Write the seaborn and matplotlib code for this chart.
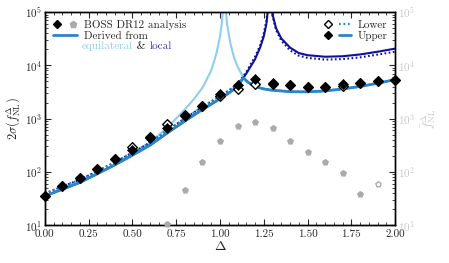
import numpy as np
import pandas as pd
import matplotlib
matplotlib.use("Agg")
import matplotlib.pyplot as plt
import seaborn as sns
from matplotlib.lines import Line2D
from matplotlib.legend_handler import HandlerTuple
from matplotlib.ticker import MultipleLocator, LogLocator, NullFormatter

# ---------------- data ----------------
delta_pts = [0.0, 0.1, 0.2, 0.3, 0.4, 0.5, 0.6, 0.7, 0.8, 0.9, 1.0,
             1.1, 1.2, 1.3, 1.4, 1.5, 1.6, 1.7, 1.8, 1.9, 2.0]
sigma_upper = [35, 53, 75, 115, 176, 257, 427, 660, 1100, 1700, 2900,
               4200, 5500, 4700, 4350, 3900, 4000, 4470, 4650, 5000, 5400]
sigma_lower = [35, 53, 75, 115, 176, 288, 450, 780, 1150, 1750, 2640,
               3550, 4500, 4500, 4300, 3900, 4000, 4150, 4650, 5000, 5400]

fbar_delta = [0.7, 0.8, 0.9, 1.0, 1.1, 1.2, 1.3, 1.4, 1.5, 1.6, 1.7, 1.8]
fbar_vals = [10.5, 45, 155, 385, 715, 870, 660, 380, 240, 155, 96, 38]
fbar_open_delta = [1.9]
fbar_open_vals = [59]

# derived from equilateral (light blue)
eq_delta = [0.0, 0.2, 0.4, 0.5, 0.6, 0.7, 0.8, 0.85, 0.9, 0.95, 0.98, 1.0, 1.01, 1.02,
            1.03, 1.04, 1.06, 1.08, 1.1, 1.13, 1.16, 1.2, 1.25, 1.3, 1.4, 1.5, 1.6,
            1.7, 1.8, 1.9, 2.0]
eq_sigma = [35, 63, 135, 215, 350, 680, 1500, 2300, 3800, 8000, 17000, 35000, 60000, 150000,
            150000, 60000, 25000, 14000, 9500, 6200, 4800, 4000, 3600, 3400, 3200, 3170, 3300,
            3600, 4000, 4600, 5400]

# derived from local (dark blue)
loc_delta = [0.0, 0.1, 0.2, 0.3, 0.4, 0.5, 0.6, 0.7, 0.8, 0.9, 1.0, 1.05, 1.1, 1.15,
             1.2, 1.23, 1.25, 1.265, 1.278,
             1.29, 1.30, 1.32, 1.35, 1.4, 1.45, 1.5, 1.6, 1.7, 1.8, 1.9, 2.0]
loc_sigma = [35, 47, 63, 92, 135, 205, 315, 540, 900, 1480, 2350, 3000, 4000, 7000,
             13000, 22000, 35000, 60000, 150000,
             150000, 90000, 50000, 32000, 21500, 17000, 15500, 14500, 14800, 16000, 18000, 20600]
loc_sigma_low = [39, 53, 71, 103, 151, 230, 353, 605, 1010, 1660, 2630, 3350, 4450, 7500,
                 14500, 24000, 40000, 70000, 150000,
                 150000, 85000, 46000, 29000, 19000, 15200, 13800, 12800, 13100, 14100, 15900, 18000]

# combined (medium blue)
comb_delta = [0.0, 0.1, 0.2, 0.3, 0.4, 0.5, 0.6, 0.7, 0.8, 0.9, 1.0, 1.05, 1.1, 1.133,
              1.16, 1.2, 1.25, 1.3, 1.4, 1.5, 1.6, 1.7, 1.8, 1.9, 2.0]
comb_sigma = [35, 47, 63, 92, 135, 205, 315, 540, 900, 1480, 2350, 3000, 4000, 5800,
              4800, 4000, 3600, 3400, 3200, 3170, 3300, 3600, 4000, 4600, 5400]
comb_sigma_low = [39, 53, 71, 103, 151, 230, 353, 605, 1010, 1660, 2630, 3350, 4450, 5900,
                  4800, 4000, 3600, 3400, 3200, 3170, 3300, 3600, 4000, 4600, 5400]

LIGHT = "#8dcff0"
MED = "#2a86c8"
DARK = "#10109c"
GRAY = "#aaaaaa"

sns.set_theme(style="ticks")
plt.rcParams.update({
    "font.family": "serif",
    "font.serif": ["cmr10"],
    "mathtext.fontset": "cm",
    "axes.formatter.use_mathtext": True,
    "axes.unicode_minus": False,
    "xtick.direction": "in",
    "ytick.direction": "in",
    "xtick.top": True,
    "font.size": 8,
    "axes.linewidth": 1.0,
    "axes.edgecolor": "black",
})

fig = plt.figure(figsize=(4.49, 2.63), dpi=100)
ax = fig.add_axes([0.1, 0.1445, 0.78, 0.8095])

kw = dict(ax=ax, estimator=None, sort=False, legend=False)
sns.lineplot(x=eq_delta, y=eq_sigma, color=LIGHT, lw=1.5, zorder=2, **kw)
sns.lineplot(x=loc_delta, y=loc_sigma, color=DARK, lw=1.5, zorder=2, **kw)
sns.lineplot(x=loc_delta, y=loc_sigma_low, color=DARK, lw=1.5, ls=(0, (0.8, 1.2)), zorder=2, **kw)
sns.lineplot(x=comb_delta, y=comb_sigma, color=MED, lw=2.0, zorder=3, **kw)
sns.lineplot(x=comb_delta, y=comb_sigma_low, color=MED, lw=1.6, ls=(0, (0.8, 1.2)), zorder=3, **kw)

df_low = pd.DataFrame({"d": delta_pts, "s": sigma_lower})
df_up = pd.DataFrame({"d": delta_pts, "s": sigma_upper})
sns.scatterplot(data=df_low, x="d", y="s", ax=ax, marker="D", s=24, facecolor="white",
                edgecolor="black", linewidth=1.0, zorder=4, clip_on=False, legend=False)
sns.scatterplot(data=df_up, x="d", y="s", ax=ax, marker="D", s=26, color="black",
                edgecolor="black", linewidth=0.5, zorder=5, clip_on=False, legend=False)

ax.set_yscale("log")
ax.set_xlim(0, 2)
ax.set_ylim(10, 1e5)
ax.xaxis.set_major_locator(MultipleLocator(0.25))
ax.xaxis.set_minor_locator(MultipleLocator(0.05))
ax.xaxis.set_major_formatter(matplotlib.ticker.FormatStrFormatter("%.2f"))
ax.yaxis.set_major_locator(LogLocator(base=10, numticks=10))
ax.yaxis.set_minor_locator(LogLocator(base=10, subs=np.arange(2, 10), numticks=10))
ax.yaxis.set_minor_formatter(NullFormatter())
ax.tick_params(axis="both", which="major", length=4, width=0.8, labelsize=8, pad=2)
ax.tick_params(axis="x", which="major", pad=3)
ax.tick_params(axis="both", which="minor", length=2, width=0.6)
ax.set_xlabel(r"$\Delta$", fontsize=10, labelpad=1)
ax.set_ylabel(r"$2\sigma(f_{\rm NL}^{\Delta})$", fontsize=9, labelpad=2)

ax2 = ax.twinx()
ax2.set_yscale("log")
ax2.set_ylim(10, 1e5)
sns.scatterplot(x=fbar_delta, y=fbar_vals, ax=ax2, marker="p", s=24, color=GRAY,
                edgecolor=GRAY, linewidth=0.3, zorder=3, clip_on=False, legend=False)
sns.scatterplot(x=fbar_open_delta, y=fbar_open_vals, ax=ax2, marker="p", s=16, facecolor="white",
                edgecolor=GRAY, linewidth=1.0, zorder=3, legend=False)
ax2.yaxis.set_major_locator(LogLocator(base=10, numticks=10))
ax2.yaxis.set_minor_locator(LogLocator(base=10, subs=np.arange(2, 10), numticks=10))
ax2.yaxis.set_minor_formatter(NullFormatter())
ax2.tick_params(axis="y", which="major", length=4, width=0.8, direction="in",
                labelsize=8, labelcolor="#c8c8c8", pad=2)
ax2.tick_params(axis="y", which="minor", length=2, width=0.6, direction="in")
ax2.set_ylabel(r"$\bar{f}_{\rm NL}^{\Delta}$", fontsize=9, color="#c8c8c8", labelpad=3)

# legends
h_boss = (Line2D([], [], marker="D", ls="none", color="black", ms=4.2),
          Line2D([], [], marker="p", ls="none", color=GRAY, ms=4.5))
h_der = Line2D([], [], color=MED, lw=2.0)
leg1 = ax2.legend([h_boss, h_der], ["BOSS DR12 analysis", "Derived from"],
                  handler_map={tuple: HandlerTuple(ndivide=None, pad=0.6)},
                  loc="upper left", bbox_to_anchor=(0.0, 1.0), frameon=False,
                  fontsize=8, handlelength=2.2, handletextpad=0.6, labelspacing=0.15,
                  borderaxespad=0.3)
ax2.add_artist(leg1)

t1 = ax2.text(0.106, 0.843, "equilateral", transform=ax2.transAxes, color=LIGHT,
              fontsize=8, va="center", ha="left")
t2 = ax2.annotate(" & ", xy=(1, 0), xycoords=t1, va="bottom", ha="left", fontsize=8, color="black")
t3 = ax2.annotate("local", xy=(1, 0), xycoords=t2, va="bottom", ha="left", fontsize=8, color="#3333b8")

h_low = (Line2D([], [], marker="D", ls="none", mfc="white", mec="black", ms=3.8, mew=1.0),
         Line2D([], [], color=MED, lw=1.6, ls=(0, (0.8, 1.2))))
h_up = (Line2D([], [], marker="D", ls="none", color="black", ms=4.2),
        Line2D([], [], color=MED, lw=2.0))
leg2 = ax2.legend([h_low, h_up], ["Lower", "Upper"],
                  handler_map={tuple: HandlerTuple(ndivide=None, pad=0.5)},
                  loc="upper right", bbox_to_anchor=(1.0, 1.0), frameon=False,
                  fontsize=8, handlelength=2.6, handletextpad=0.6, labelspacing=0.15,
                  borderaxespad=0.3)

fig.savefig("out.png", dpi=100)
